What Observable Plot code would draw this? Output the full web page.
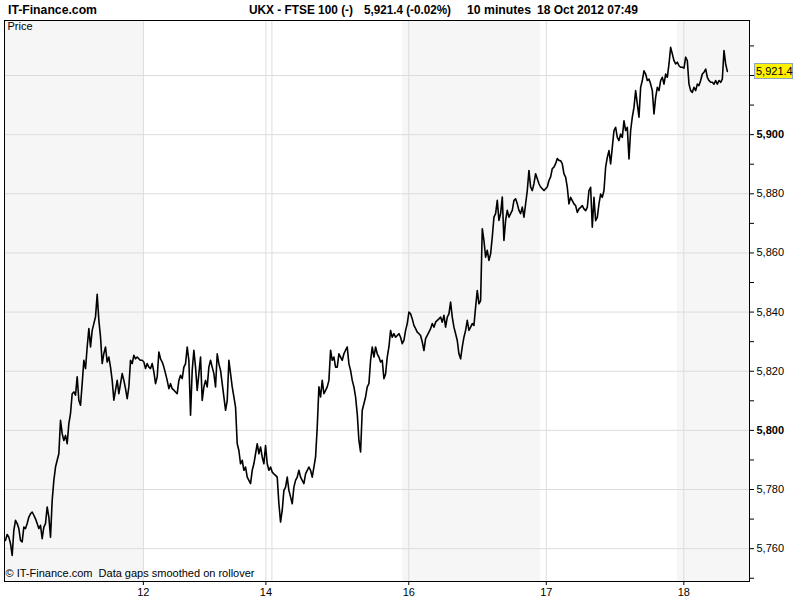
<!DOCTYPE html>
<html><head><meta charset="utf-8">
<script src="https://cdn.jsdelivr.net/npm/d3@7"></script>
<script src="https://cdn.jsdelivr.net/npm/@observablehq/plot@0.6"></script>
<style>
body{margin:0;background:#fff;}
#wrap{position:relative;width:800px;height:600px;overflow:hidden;}
</style></head><body>
<div id="wrap"></div>
<script>
// FTSE 100 10-minute prices, sampled left to right (sample index = position in series)
const seg1 = [
5762.8,5764.8,5763.9,5761.7,5757.7,5766.2,5769.6,5768.5,5766.8,5762.8,
5762.3,5767.3,5766.8,5768.5,5770.7,5771.8,5772.4,5771.3,5770.1,5768.5,
5766.8,5767.9,5763.4,5767.3,5768.5,5774.1,5770.7,5763.9,5776.3,5783.1,
5787.6,5789.9,5792.1,5803.4,5798.9,5796.6,5798.3,5795.5,5802.3,5805.7,
5812.4,5813.0,5811.9,5818.1,5810.2,5808.5,5815.8,5823.7,5820.9,5828.2,
5834.4,5828.2,5833.8,5836.1,5838.4,5846.0,5837.2,5831.6,5822.6,5826.0,
5828.2,5823.1,5824.8,5821.4,5816.9,5810.2,5813.6,5816.9,5812.4,5815.8,
5819.2,5816.9,5814.1,5810.7,5814.7,5823.7,5822.6,5825.4,5824.2,5824.8,
5824.2,5823.7,5823.7,5823.1,5820.9,5822.6,5821.4,5820.9,5822.6,5819.8,
5815.8,5818.1,5826.5,5824.2,5823.1,5821.4,5819.2,5816.9,5814.1,5815.8,
5814.1,5813.6,5813.0,5812.4,5816.9,5818.6,5817.5,5821.4,5822.6,5828.2,
5823.7];
const seg2 = [
5805.1,5820.3,5827.1,5821.4,5813.5,5819.2,5824.8,5810.1,5814.7,5816.9,
5814.7,5821.4,5823.7,5821.4,5819.2,5814.7,5825.9,5822.5,5820.3,5815.8,
5811.3,5806.8,5810.1,5823.7,5819.2,5814.7,5811.3,5807.9,5795.5,5793.2,
5788.7,5789.9,5786.5,5787.6,5784.2,5783.1,5782.0,5786.5,5788.7,5792.1,
5795.5,5792.1,5794.4,5791.0,5788.7,5794.9,5788.7,5786.5,5787.6,5785.9,
5785.3,5784.8,5784.2,5775.2,5769.0,5773.0,5779.7,5780.8,5784.2,5779.7,
5777.5,5775.2,5780.8,5783.1,5784.2,5786.5,5784.2,5783.1,5782.0,5785.3,
5786.5,5787.6,5786.5,5784.2,5787.6,5791.0,5801.1,5814.7,5811.3,5816.9,
5812.4,5813.5,5814.7,5816.9,5827.1,5823.7,5824.8,5821.4,5821.4,5825.9,
5824.8,5823.7,5825.9,5827.1,5828.2,5822.5,5820.3,5816.9,5814.7,5811.3,
5805.6,5796.6,5792.7,5806.8,5809.0,5811.3,5814.7,5815.8,5823.7,5828.2,
5824.8];
const seg3 = [
5828.2,5825.9,5824.8,5823.1,5823.7,5817.5,5819.1,5824.8,5828.2,5833.8,
5831.5,5832.7,5831.5,5832.1,5832.7,5831.5,5829.3,5830.4,5833.8,5836.1,
5840.0,5839.4,5837.7,5835.5,5834.4,5833.2,5832.7,5832.1,5829.9,5827.0,
5831.0,5832.1,5833.2,5834.4,5836.1,5834.9,5836.6,5837.2,5837.7,5838.3,
5836.6,5838.9,5834.9,5838.3,5839.4,5843.4,5838.3,5834.9,5832.7,5830.4,
5825.9,5824.2,5828.2,5831.5,5833.8,5837.2,5833.8,5834.9,5836.1,5835.5,
5841.7,5847.3,5842.8,5843.9,5868.2,5864.2,5858.6,5860.9,5857.5,5859.7,
5865.4,5872.1,5873.3,5877.8,5871.0,5873.3,5878.9,5864.2,5871.0,5874.4,
5872.1,5873.3,5874.4,5877.8,5878.3,5876.6,5874.4,5873.3,5875.5,5872.1,
5876.6,5881.1,5887.9,5882.3,5881.1,5883.4,5886.8,5885.1,5883.4,5882.3,
5881.7,5881.1,5881.7,5882.3,5884.5,5885.7,5888.5,5889.0,5890.2,5891.9,
5891.3];
const seg4 = [
5891.2,5890.1,5886.7,5885.6,5882.2,5876.6,5878.8,5877.7,5876.6,5876.0,
5873.7,5874.9,5875.4,5876.0,5874.9,5874.3,5875.4,5881.1,5882.2,5868.7,
5878.8,5870.9,5872.0,5876.6,5879.9,5878.8,5881.1,5889.0,5892.3,5894.6,
5890.1,5895.7,5901.4,5902.5,5899.1,5898.0,5900.2,5899.1,5904.7,5901.4,
5902.5,5891.8,5901.4,5905.9,5909.2,5914.9,5910.4,5905.9,5916.0,5918.3,
5921.6,5920.5,5918.3,5918.8,5917.1,5914.9,5907.0,5912.6,5916.0,5914.9,
5918.3,5919.4,5917.1,5920.5,5919.4,5923.9,5929.5,5927.3,5925.0,5923.9,
5924.5,5923.3,5922.8,5922.8,5922.5,5926.2,5925.0,5917.1,5914.9,5914.3,
5916.0,5914.9,5917.1,5916.6,5918.3,5920.5,5921.1,5922.2,5919.4,5918.3,
5917.7,5917.7,5917.1,5918.3,5917.1,5918.3,5917.7,5918.8,5928.4,5923.9,
5921.4];

// day ticks (sample-index positions) and labels
const dayTickPos = [82.7, 156.2, 241.9, 324.4, 406.9];
const dayTickLabels = ["12", "14", "16", "17", "18"];
const extraDayGrid = [159.8];
// shaded sessions
const shadeStart = [-0.6, 238.3, 403.0];
const shadeEnd = [82.7, 321.0, 446.3];
// price axis
const yGrid = [5760, 5780, 5800, 5820, 5840, 5860, 5880, 5900, 5920];
const yLabelled = [5760, 5780, 5800, 5820, 5840, 5860, 5880, 5900]; // 5,920 sits under the last-price tag
const yMinor = [5750, 5770, 5790, 5810, 5830, 5850, 5870, 5890, 5910, 5930];

const price = [...seg1, ...seg2, ...seg3, ...seg4];
const series = price.map((p, i) => ({t: i, price: p}));
const shades = shadeStart.map((s, i) => ({s, e: shadeEnd[i]}));
const labelMap = new Map(dayTickPos.map((p, i) => [p, dayTickLabels[i]]));
const fmt = d3.format(",");
const FONT = "'Liberation Sans', Arial, sans-serif";

const chart = Plot.plot({
  width: 800, height: 600,
  marginTop: 20, marginBottom: 19, marginLeft: 4, marginRight: 51,
  style: {fontFamily: FONT, fontSize: "11px", color: "#000", background: "#fff"},
  x: {domain: [-0.6, 446.3]},
  y: {domain: [5748.9, 5938.6]},
  marks: [
    Plot.rect(shades, {x1: "s", x2: "e", fill: "#f6f6f6"}),
    Plot.ruleY(yGrid, {stroke: "#dcdcdc"}),
    Plot.ruleX([...dayTickPos, ...extraDayGrid], {stroke: "#dcdcdc"}),
    Plot.line(series, {x: "t", y: "price", stroke: "#000", strokeWidth: 1.6, clip: true}),
    Plot.frame({stroke: "#000"}),
    Plot.axisY(yLabelled.filter(v => v % 100 !== 0), {anchor: "right", tickSize: 4, tickPadding: 3, tickFormat: fmt, label: null}),
    Plot.axisY(yLabelled.filter(v => v % 100 === 0), {anchor: "right", tickSize: 4, tickPadding: 3, tickFormat: fmt, fontWeight: "bold", label: null}),
    Plot.axisY([5920, ...yMinor], {anchor: "right", tickSize: 4, tickFormat: () => "", label: null}),
    Plot.axisX(dayTickPos, {anchor: "bottom", tickSize: 4, tickPadding: 3, tickFormat: d => labelMap.get(d), label: null}),
    Plot.text(["Price"], {frameAnchor: "top-left", dx: 3, dy: 2, fontSize: 11}),
    Plot.text(["© IT-Finance.com  Data gaps smoothed on rollover"], {frameAnchor: "bottom-left", dx: 1, dy: -5, fontSize: 11})
  ]
});
document.getElementById("wrap").appendChild(chart);

const svg = d3.select(chart);
// header
const hdr = [
  {text: "IT-Finance.com", x: 8, w: 89},
  {text: "UKX - FTSE 100 (-)", x: 249, w: 104},
  {text: "5,921.4 (-0.02%)", x: 364, w: 87},
  {text: "10 minutes", x: 467, w: 64},
  {text: "18 Oct 2012 07:49", x: 537, w: 101}
];
svg.append("g").attr("text-anchor", "start").selectAll("text").data(hdr).join("text")
  .attr("x", d => d.x).attr("y", 14)
  .attr("textLength", d => d.w).attr("lengthAdjust", "spacingAndGlyphs")
  .attr("font-family", FONT).attr("font-weight", "bold").attr("font-size", 13)
  .attr("fill", "#000").text(d => d.text);

// last-price tag on the price axis
const last = price[price.length - 1];
const yl = chart.scale("y").apply(last);
const tag = svg.append("g").attr("text-anchor", "start");
tag.append("rect").attr("x", 754.5).attr("y", Math.round(yl) - 7.5)
  .attr("width", 38).attr("height", 15).attr("fill", "#fff200").attr("stroke", "#8ea4bd");
tag.append("text").attr("x", 756).attr("y", Math.round(yl) + 4)
  .attr("font-family", FONT).attr("font-size", 11).attr("fill", "#000").text(fmt(last));
</script>
</body></html>
